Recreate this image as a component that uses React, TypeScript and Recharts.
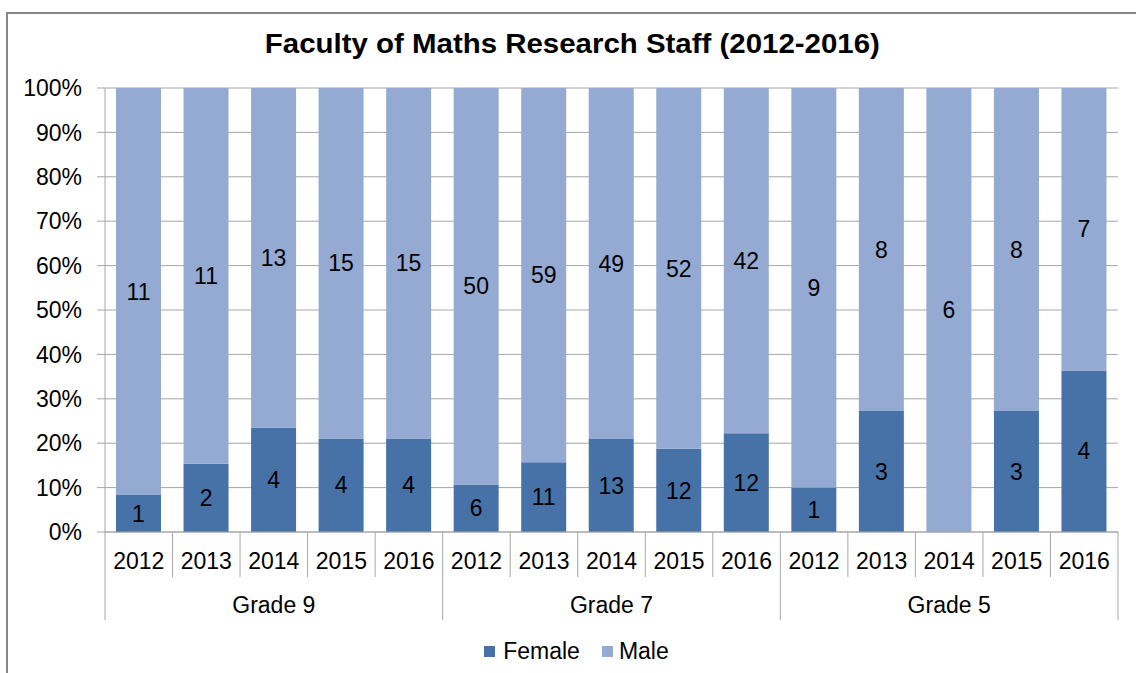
import React from "react";
import {
  BarChart, Bar, XAxis, YAxis, CartesianGrid, Legend, LabelList,
} from "recharts";

const years = ["2012", "2013", "2014", "2015", "2016"];
const grades = ["Grade 9", "Grade 7", "Grade 5"];
const female = [1, 2, 4, 4, 4, 6, 11, 13, 12, 12, 1, 3, 0, 3, 4];
const male = [11, 11, 13, 15, 15, 50, 59, 49, 52, 42, 9, 8, 6, 8, 7];
const yTicks = [0, 0.1, 0.2, 0.3, 0.4, 0.5, 0.6, 0.7, 0.8, 0.9, 1];

const series = [
  { key: "female", name: "Female", color: "#4672A8" },
  { key: "male", name: "Male", color: "#95AAD2" },
];

const data = grades.flatMap((g, gi) =>
  years.map((y, yi) => ({
    key: `${g}-${y}`,
    year: y,
    grade: g,
    female: female[gi * years.length + yi],
    male: male[gi * years.length + yi],
  }))
);

const W = 1136;
const H = 673;
const M = { top: 88, right: 18, left: 0, bottom: 0 };
const Y_W = 105;
const BAND = (W - M.left - M.right - Y_W) / data.length;
const FONT = "'Liberation Sans', Arial, sans-serif";
const LINE = "#a6a6a6";

function GroupTick(props: any) {
  const { x, y, payload } = props;
  const i = payload.index;
  const d = data[i];
  if (!d) return null;
  const half = BAND / 2;
  const pos = i % years.length;
  const groupStart = pos === 0;
  const last = i === data.length - 1;
  return (
    <g>
      <line x1={x - half} x2={x - half} y1={y} y2={y + (groupStart ? 88 : 45)} stroke={LINE} />
      {last && <line x1={x + half} x2={x + half} y1={y} y2={y + 88} stroke={LINE} />}
      <text x={x} y={y + 37} textAnchor="middle" fontSize={23} fill="#000">{d.year}</text>
      {pos === 2 && (
        <text x={x} y={y + 81} textAnchor="middle" fontSize={23} fill="#000">{d.grade}</text>
      )}
    </g>
  );
}

function LegendContent() {
  return (
    <div style={{
      display: "flex", justifyContent: "center", alignItems: "center",
      paddingTop: 18, paddingLeft: 35, fontSize: 23, fontFamily: FONT, color: "#000", lineHeight: "26px",
    }}>
      {series.map((s, i) => (
        <div key={s.key} style={{ display: "flex", alignItems: "center", marginLeft: i ? 22 : 0 }}>
          <span style={{ width: 11, height: 11, background: s.color, display: "inline-block", marginRight: i ? 6 : 8 }} />
          <span>{s.name}</span>
        </div>
      ))}
    </div>
  );
}

export default function App() {
  return (
    <div style={{ position: "absolute", left: 0, top: 0, width: W, height: H, overflow: "hidden", background: "#fff", fontFamily: FONT }}>
      <div style={{
        position: "absolute", left: 6, top: 12, width: W + 20, height: H + 20,
        border: "2px solid #868686", boxSizing: "border-box",
      }} />
      <div style={{
        position: "absolute", left: 7, top: 31, width: 1132, textAlign: "center",
        fontSize: 27, fontWeight: "bold", lineHeight: "27px", color: "#000",
        transform: "scaleX(1.09)", transformOrigin: "573px 0",
      }}>
        Faculty of Maths Research Staff (2012-2016)
      </div>
      <div style={{ position: "absolute", left: 0, top: 0 }}>
        <BarChart width={W} height={H} data={data} margin={M} stackOffset="expand" style={{ fontFamily: FONT }}>
          <CartesianGrid vertical={false} stroke={LINE} />
          <XAxis
            dataKey="key" interval={0} tickSize={0} tickMargin={0} height={88}
            axisLine={{ stroke: LINE }} tickLine={false} tick={<GroupTick />}
          />
          <YAxis
            width={Y_W} ticks={yTicks} domain={[0, 1]} tickSize={8} tickMargin={15}
            axisLine={{ stroke: LINE }} tickLine={{ stroke: LINE }}
            tick={{ fill: "#000", fontSize: 23 }}
            tickFormatter={(v) => `${Math.round(v * 100)}%`}
          />
          <Legend verticalAlign="bottom" height={53} content={<LegendContent />} />
          {series.map((s) => (
            <Bar key={s.key} dataKey={s.key} name={s.name} stackId="a" fill={s.color} barSize={45} isAnimationActive={false}>
              <LabelList
                dataKey={s.key} position="center" fill="#000" fontSize={23}
                formatter={(v: any) => (v === 0 ? "" : v)}
              />
            </Bar>
          ))}
        </BarChart>
      </div>
    </div>
  );
}
